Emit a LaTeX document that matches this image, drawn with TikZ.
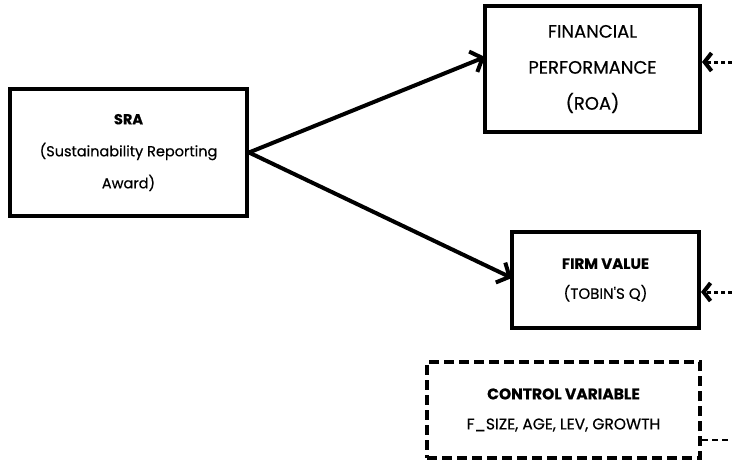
\documentclass[tikz,border=0pt]{standalone}
\usepackage{fontspec}
\setmainfont{Poppins}
\newfontfamily\heavyfont{Poppins}[FakeBold=0.5]
\usetikzlibrary{arrows.meta}
\begin{document}
\begin{tikzpicture}[x=1pt,y=-1pt,
  box/.style={draw=black,line width=4pt,rectangle,align=center,inner sep=0pt},
  dbox/.style={box,dash pattern=on 10pt off 5pt},
  mainarrow/.style={line width=4pt,-{Straight Barb[length=10pt,width=22pt,line width=4pt]}},
  dasharrow/.style={line width=3pt,dash pattern=on 4pt off 3pt,-{Straight Barb[length=7pt,width=18pt,line width=4pt]}},
  dline/.style={line width=2.5pt,dash pattern=on 6pt off 4pt}]
\useasboundingbox (0,0) rectangle (732,463);
\node[box,minimum width=237pt,minimum height=127pt,font=\heavyfont\fontsize{14.5}{32}\selectfont] (sra) at (128.5,152.5)
  {\textbf{SRA}\\(Sustainability Reporting\\Award)};
\node[box,minimum width=215pt,minimum height=126pt,font=\heavyfont\fontsize{18}{36}\selectfont] (fp) at (592.5,69)
  {FINANCIAL\\PERFORMANCE\\(ROA)};
\node[box,minimum width=187pt,minimum height=96pt,font=\heavyfont\fontsize{15}{30}\selectfont] (fv) at (605.5,280)
  {\textbf{FIRM VALUE}\\(TOBIN'S Q)};
\node[dbox,minimum width=273pt,minimum height=96pt,font=\heavyfont\fontsize{15.5}{30}\selectfont] (ctrl) at (563.5,410)
  {\textbf{CONTROL VARIABLE}\\F\_SIZE, AGE, LEV, GROWTH};
\coordinate (fpa) at (485,57);
\coordinate (fva) at (512,278);
\coordinate (fpin) at (732,62);
\coordinate (fvin) at (732,292);
\coordinate (cin) at (732,440);
\draw[mainarrow] (sra.east) -- (fpa);
\draw[mainarrow] (sra.east) -- (fva);
\draw[dasharrow] (fpin) -- (fpin -| fp.east);
\draw[dasharrow] (fvin) -- (fvin -| fv.east);
\draw[dline] (ctrl.east |- cin) -- (cin);
\end{tikzpicture}
\end{document}
